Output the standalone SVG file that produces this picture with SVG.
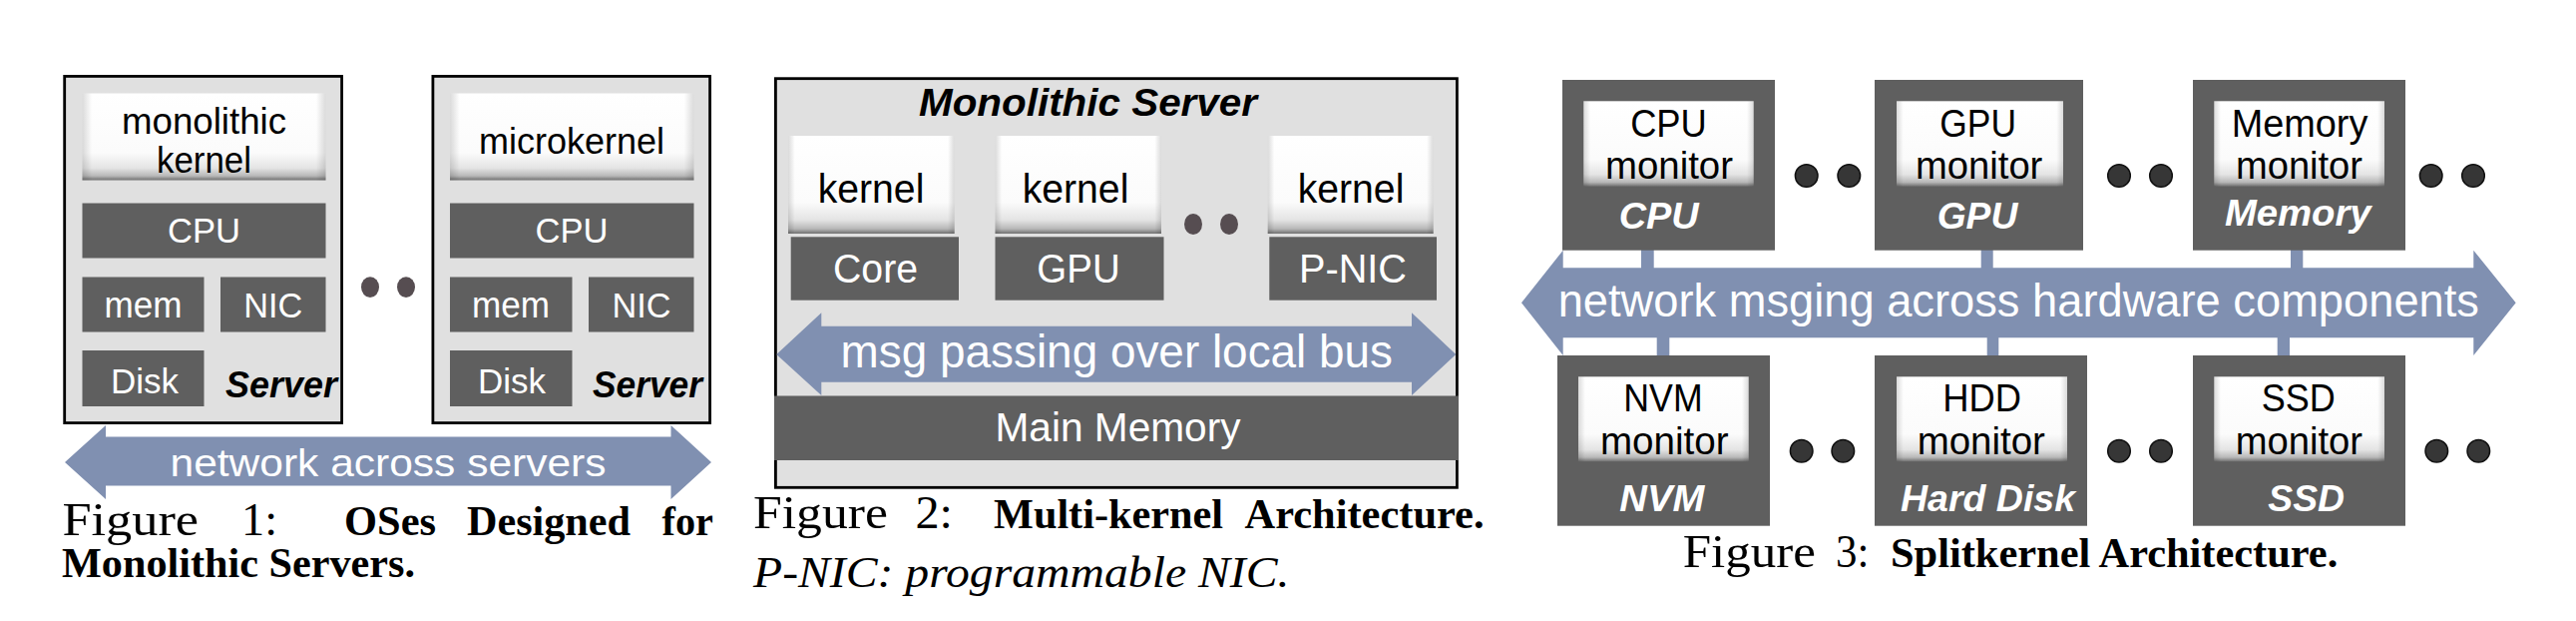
<svg xmlns="http://www.w3.org/2000/svg" width="2582" height="622" viewBox="0 0 2582 622">
<style>
.sans{font-family:"Liberation Sans",Arial,sans-serif}
.serif{font-family:"Liberation Serif","Times New Roman",serif}
.frame{fill:#e0e0e0;stroke:#000;stroke-width:2.8}
.hw{fill:#5f5f5f}
.wt{fill:#fff}
.bk{fill:#000}
.bi{font-weight:bold;font-style:italic}
.bus{fill:#8090b1}
.d1{fill:#564d51}
.d3{fill:#363636;stroke:#111;stroke-width:1.5}
.kb{fill:url(#kv)}
.ks{fill:url(#kh)}
.mid{text-anchor:middle}
</style>
<defs>
<linearGradient id="kv" x1="0" y1="0" x2="0" y2="1">
<stop offset="0" stop-color="#ffffff"/>
<stop offset="0.68" stop-color="#fbfbfb"/>
<stop offset="0.86" stop-color="#e4e4e4"/>
<stop offset="0.95" stop-color="#b8b8b8"/>
<stop offset="1" stop-color="#707070"/>
</linearGradient>
<linearGradient id="kh" x1="0" y1="0" x2="1" y2="0">
<stop offset="0" stop-color="#000" stop-opacity="0.14"/>
<stop offset="0.04" stop-color="#000" stop-opacity="0"/>
<stop offset="0.96" stop-color="#000" stop-opacity="0"/>
<stop offset="1" stop-color="#000" stop-opacity="0.14"/>
</linearGradient>
</defs>
<rect width="2582" height="622" fill="#fff"/>

<!-- ===== Figure 1 ===== -->
<g id="fig1-server1">
<rect class="frame" x="64.7" y="76.4" width="277.9" height="347.2"/>
<rect class="kb" x="82.5" y="93.5" width="244" height="87"/>
<rect class="ks" x="82.5" y="93.5" width="244" height="87"/>
<text class="sans bk mid" x="204.5" y="134" font-size="36" textLength="165" lengthAdjust="spacingAndGlyphs">monolithic</text>
<text class="sans bk mid" x="204.5" y="173.3" font-size="36" textLength="95" lengthAdjust="spacingAndGlyphs">kernel</text>
<rect class="hw" x="82.5" y="203.5" width="244" height="55"/>
<text class="sans wt mid" x="204.5" y="242.7" font-size="35" textLength="73" lengthAdjust="spacingAndGlyphs">CPU</text>
<rect class="hw" x="82.5" y="277.5" width="122" height="55"/>
<text class="sans wt mid" x="143.5" y="317.7" font-size="36" textLength="78" lengthAdjust="spacingAndGlyphs">mem</text>
<rect class="hw" x="221" y="277.5" width="105.5" height="55"/>
<text class="sans wt mid" x="273.8" y="317.7" font-size="35" textLength="59" lengthAdjust="spacingAndGlyphs">NIC</text>
<rect class="hw" x="82.5" y="351" width="122" height="56"/>
<text class="sans wt mid" x="145" y="393.5" font-size="35" textLength="68" lengthAdjust="spacingAndGlyphs">Disk</text>
<text class="sans bk bi mid" x="282" y="398" font-size="36" textLength="112" lengthAdjust="spacingAndGlyphs">Server</text>
</g>
<g id="fig1-dots">
<ellipse class="d1" cx="371" cy="287.6" rx="9" ry="10.3"/>
<ellipse class="d1" cx="407" cy="287.6" rx="9" ry="10.3"/>
</g>
<g id="fig1-server2">
<rect class="frame" x="433.9" y="76.4" width="277.7" height="347.2"/>
<rect class="kb" x="451" y="93.5" width="244.5" height="87"/>
<rect class="ks" x="451" y="93.5" width="244.5" height="87"/>
<text class="sans bk mid" x="573" y="154" font-size="36" textLength="186" lengthAdjust="spacingAndGlyphs">microkernel</text>
<rect class="hw" x="451" y="203.5" width="244.5" height="55"/>
<text class="sans wt mid" x="573" y="242.7" font-size="35" textLength="73" lengthAdjust="spacingAndGlyphs">CPU</text>
<rect class="hw" x="451" y="277.5" width="122.5" height="55"/>
<text class="sans wt mid" x="512" y="317.7" font-size="36" textLength="78" lengthAdjust="spacingAndGlyphs">mem</text>
<rect class="hw" x="590" y="277.5" width="105.5" height="55"/>
<text class="sans wt mid" x="643" y="317.7" font-size="35" textLength="59" lengthAdjust="spacingAndGlyphs">NIC</text>
<rect class="hw" x="451" y="351" width="122.5" height="56"/>
<text class="sans wt mid" x="513" y="393.5" font-size="35" textLength="68" lengthAdjust="spacingAndGlyphs">Disk</text>
<text class="sans bk bi mid" x="649" y="398" font-size="36" textLength="110" lengthAdjust="spacingAndGlyphs">Server</text>
</g>
<g id="fig1-caption">
<text class="serif bk" y="536" font-size="47"><tspan x="62.4" textLength="136.7" lengthAdjust="spacingAndGlyphs">Figure</tspan><tspan x="242" textLength="36" lengthAdjust="spacingAndGlyphs">1:</tspan></text>
<text class="serif bk" y="536" font-size="42" font-weight="bold"><tspan x="345" textLength="92" lengthAdjust="spacingAndGlyphs">OSes</tspan><tspan x="468" textLength="164" lengthAdjust="spacingAndGlyphs">Designed</tspan><tspan x="663.6" textLength="51.4" lengthAdjust="spacingAndGlyphs">for</tspan></text>
<text class="serif bk" x="62" y="578" font-size="42" font-weight="bold" textLength="354" lengthAdjust="spacingAndGlyphs">Monolithic Servers.</text>
</g>

<!-- ===== Figure 2 ===== -->
<g id="fig2-server">
<rect class="frame" x="777.4" y="78.7" width="683" height="409.6"/>
<text class="sans bk bi" x="921" y="116" font-size="38" textLength="339" lengthAdjust="spacingAndGlyphs">Monolithic Server</text>
</g>
<g id="fig2-core">
<rect class="kb" x="790" y="136" width="166.7" height="98"/>
<rect class="ks" x="790" y="136" width="166.7" height="98"/>
<text class="sans bk mid" x="873" y="202.7" font-size="41" textLength="106.7" lengthAdjust="spacingAndGlyphs">kernel</text>
<rect class="hw" x="792.7" y="237.3" width="168.3" height="63.4"/>
<text class="sans wt mid" x="877.5" y="282.7" font-size="40" textLength="85" lengthAdjust="spacingAndGlyphs">Core</text>
</g>
<g id="fig2-gpu">
<rect class="kb" x="997.5" y="136" width="166.5" height="98"/>
<rect class="ks" x="997.5" y="136" width="166.5" height="98"/>
<text class="sans bk mid" x="1078" y="202.7" font-size="41" textLength="106.7" lengthAdjust="spacingAndGlyphs">kernel</text>
<rect class="hw" x="997.5" y="237.3" width="169" height="63.4"/>
<text class="sans wt mid" x="1081" y="282.7" font-size="40" textLength="83.3" lengthAdjust="spacingAndGlyphs">GPU</text>
</g>
<g id="fig2-dots">
<ellipse class="d1" cx="1196" cy="224.5" rx="9" ry="10.5"/>
<ellipse class="d1" cx="1232" cy="224.5" rx="9" ry="10.5"/>
</g>
<g id="fig2-pnic">
<rect class="kb" x="1270.7" y="136" width="166" height="98"/>
<rect class="ks" x="1270.7" y="136" width="166" height="98"/>
<text class="sans bk mid" x="1354" y="202.7" font-size="41" textLength="106.7" lengthAdjust="spacingAndGlyphs">kernel</text>
<rect class="hw" x="1272.3" y="237.3" width="167.7" height="63.4"/>
<text class="sans wt mid" x="1356" y="282.7" font-size="40" textLength="108" lengthAdjust="spacingAndGlyphs">P-NIC</text>
</g>
<g id="fig2-memory">
<rect class="hw" x="776" y="396.5" width="686" height="64.5"/>
<text class="sans wt mid" x="1120.5" y="441.7" font-size="40" textLength="246" lengthAdjust="spacingAndGlyphs">Main Memory</text>
</g>
<g id="fig2-caption">
<text class="serif bk" y="529" font-size="47"><tspan x="755" textLength="135" lengthAdjust="spacingAndGlyphs">Figure</tspan><tspan x="917.5" textLength="37.5" lengthAdjust="spacingAndGlyphs">2:</tspan></text>
<text class="serif bk" y="529" font-size="42" font-weight="bold"><tspan x="996" textLength="230" lengthAdjust="spacingAndGlyphs">Multi-kernel</tspan><tspan x="1247.5" textLength="240" lengthAdjust="spacingAndGlyphs">Architecture.</tspan></text>
<text class="serif bk" x="755" y="588" font-size="45" font-style="italic" textLength="537.5" lengthAdjust="spacingAndGlyphs">P-NIC: programmable NIC.</text>
</g>

<!-- ===== Connectors / buses ===== -->
<g id="connectors">
<polygon class="bus" points="65,463 106,426 106,437.5 672.5,437.5 672.5,426 713,463 672.5,500 672.5,486.5 106,486.5 106,500"/>
<text class="sans wt mid" x="389" y="477" font-size="38.5" textLength="437" lengthAdjust="spacingAndGlyphs">network across servers</text>
<polygon class="bus" points="778.3,355 823.3,313.3 823.3,326.7 1415,326.7 1415,313.3 1459.3,355 1415,396 1415,382.7 823.3,382.7 823.3,396"/>
<text class="sans wt mid" x="1119.3" y="368.3" font-size="47" textLength="553.5" lengthAdjust="spacingAndGlyphs">msg passing over local bus</text>
<polygon class="bus" points="1525,303.3 1566.7,250.7 1566.7,268.3 2479.3,268.3 2479.3,250.7 2521.7,303.3 2479.3,356 2479.3,338.3 1566.7,338.3 1566.7,356"/>
<rect class="bus" x="1645" y="250" width="12.7" height="19"/>
<rect class="bus" x="1985.7" y="250" width="12" height="19"/>
<rect class="bus" x="2296" y="250" width="12.3" height="19"/>
<rect class="bus" x="1660.7" y="337.5" width="12.6" height="19"/>
<rect class="bus" x="1991.7" y="337.5" width="11.6" height="19"/>
<rect class="bus" x="2282.7" y="337.5" width="12.3" height="19"/>
<text class="sans wt mid" x="2023.3" y="317.3" font-size="47" textLength="923.3" lengthAdjust="spacingAndGlyphs">network msging across hardware components</text>
</g>

<!-- ===== Figure 3 ===== -->
<g id="fig3-cpu">
<rect class="hw" x="1566" y="80" width="213" height="170.7"/>
<rect class="kb" x="1587.3" y="101.3" width="170.4" height="85.4"/>
<rect class="ks" x="1587.3" y="101.3" width="170.4" height="85.4"/>
<text class="sans bk mid" x="1672.5" y="136.7" font-size="38.5" textLength="76.7" lengthAdjust="spacingAndGlyphs">CPU</text>
<text class="sans bk mid" x="1673" y="179.3" font-size="38.5" textLength="128" lengthAdjust="spacingAndGlyphs">monitor</text>
<text class="sans wt bi mid" x="1662.7" y="229.3" font-size="37" textLength="80" lengthAdjust="spacingAndGlyphs">CPU</text>
</g>
<g id="fig3-gpu">
<rect class="hw" x="1879" y="80" width="209" height="170.7"/>
<rect class="kb" x="1901" y="101.3" width="167" height="85.4"/>
<rect class="ks" x="1901" y="101.3" width="167" height="85.4"/>
<text class="sans bk mid" x="1982.7" y="136.7" font-size="38.5" textLength="76.7" lengthAdjust="spacingAndGlyphs">GPU</text>
<text class="sans bk mid" x="1983.7" y="179.3" font-size="38.5" textLength="127.3" lengthAdjust="spacingAndGlyphs">monitor</text>
<text class="sans wt bi mid" x="1982" y="229.3" font-size="37" textLength="80.6" lengthAdjust="spacingAndGlyphs">GPU</text>
</g>
<g id="fig3-memory">
<rect class="hw" x="2198" y="80" width="213" height="170.7"/>
<rect class="kb" x="2219.3" y="101.3" width="170.7" height="85.4"/>
<rect class="ks" x="2219.3" y="101.3" width="170.7" height="85.4"/>
<text class="sans bk mid" x="2305" y="136.7" font-size="38.5" textLength="136.7" lengthAdjust="spacingAndGlyphs">Memory</text>
<text class="sans bk mid" x="2304.5" y="179.3" font-size="38.5" textLength="127" lengthAdjust="spacingAndGlyphs">monitor</text>
<text class="sans wt bi mid" x="2303.3" y="225.7" font-size="37" textLength="146.7" lengthAdjust="spacingAndGlyphs">Memory</text>
</g>
<g id="fig3-nvm">
<rect class="hw" x="1561" y="356" width="213" height="170.7"/>
<rect class="kb" x="1582" y="377.3" width="170.7" height="85"/>
<rect class="ks" x="1582" y="377.3" width="170.7" height="85"/>
<text class="sans bk mid" x="1667" y="412.3" font-size="38.5" textLength="79.3" lengthAdjust="spacingAndGlyphs">NVM</text>
<text class="sans bk mid" x="1668.3" y="455" font-size="38.5" textLength="128.7" lengthAdjust="spacingAndGlyphs">monitor</text>
<text class="sans wt bi mid" x="1665.8" y="511.7" font-size="37" textLength="85" lengthAdjust="spacingAndGlyphs">NVM</text>
</g>
<g id="fig3-hdd">
<rect class="hw" x="1879" y="356" width="213" height="170.7"/>
<rect class="kb" x="1901" y="377.3" width="171" height="85"/>
<rect class="ks" x="1901" y="377.3" width="171" height="85"/>
<text class="sans bk mid" x="1986.7" y="412.3" font-size="38.5" textLength="78.7" lengthAdjust="spacingAndGlyphs">HDD</text>
<text class="sans bk mid" x="1985.8" y="455" font-size="38.5" textLength="128.3" lengthAdjust="spacingAndGlyphs">monitor</text>
<text class="sans wt bi mid" x="1992.5" y="511.7" font-size="37" textLength="175" lengthAdjust="spacingAndGlyphs">Hard Disk</text>
</g>
<g id="fig3-ssd">
<rect class="hw" x="2198" y="356" width="213" height="170.7"/>
<rect class="kb" x="2219.3" y="377.3" width="170.7" height="85"/>
<rect class="ks" x="2219.3" y="377.3" width="170.7" height="85"/>
<text class="sans bk mid" x="2303.7" y="412.3" font-size="38.5" textLength="74" lengthAdjust="spacingAndGlyphs">SSD</text>
<text class="sans bk mid" x="2304.3" y="455" font-size="38.5" textLength="127.3" lengthAdjust="spacingAndGlyphs">monitor</text>
<text class="sans wt bi mid" x="2311.7" y="511.7" font-size="37" textLength="76.7" lengthAdjust="spacingAndGlyphs">SSD</text>
</g>
<g id="fig3-dots">
<circle class="d3" cx="1810.7" cy="176" r="11.3"/>
<circle class="d3" cx="1853.3" cy="176" r="11.3"/>
<circle class="d3" cx="2124" cy="176" r="11.3"/>
<circle class="d3" cx="2166" cy="176" r="11.3"/>
<circle class="d3" cx="2436.7" cy="176" r="11.3"/>
<circle class="d3" cx="2479" cy="176" r="11.3"/>
<circle class="d3" cx="1805.7" cy="451.7" r="11.3"/>
<circle class="d3" cx="1847.3" cy="451.7" r="11.3"/>
<circle class="d3" cx="2124" cy="451.7" r="11.3"/>
<circle class="d3" cx="2166" cy="451.7" r="11.3"/>
<circle class="d3" cx="2442.3" cy="451.7" r="11.3"/>
<circle class="d3" cx="2484.3" cy="451.7" r="11.3"/>
</g>
<g id="fig3-caption">
<text class="serif bk" y="568.3" font-size="47"><tspan x="1686.7" textLength="133.3" lengthAdjust="spacingAndGlyphs">Figure</tspan><tspan x="1840" textLength="33.3" lengthAdjust="spacingAndGlyphs">3:</tspan></text>
<text class="serif bk" x="1895" y="568.3" font-size="42" font-weight="bold" textLength="448.3" lengthAdjust="spacingAndGlyphs">Splitkernel Architecture.</text>
</g>
</svg>
